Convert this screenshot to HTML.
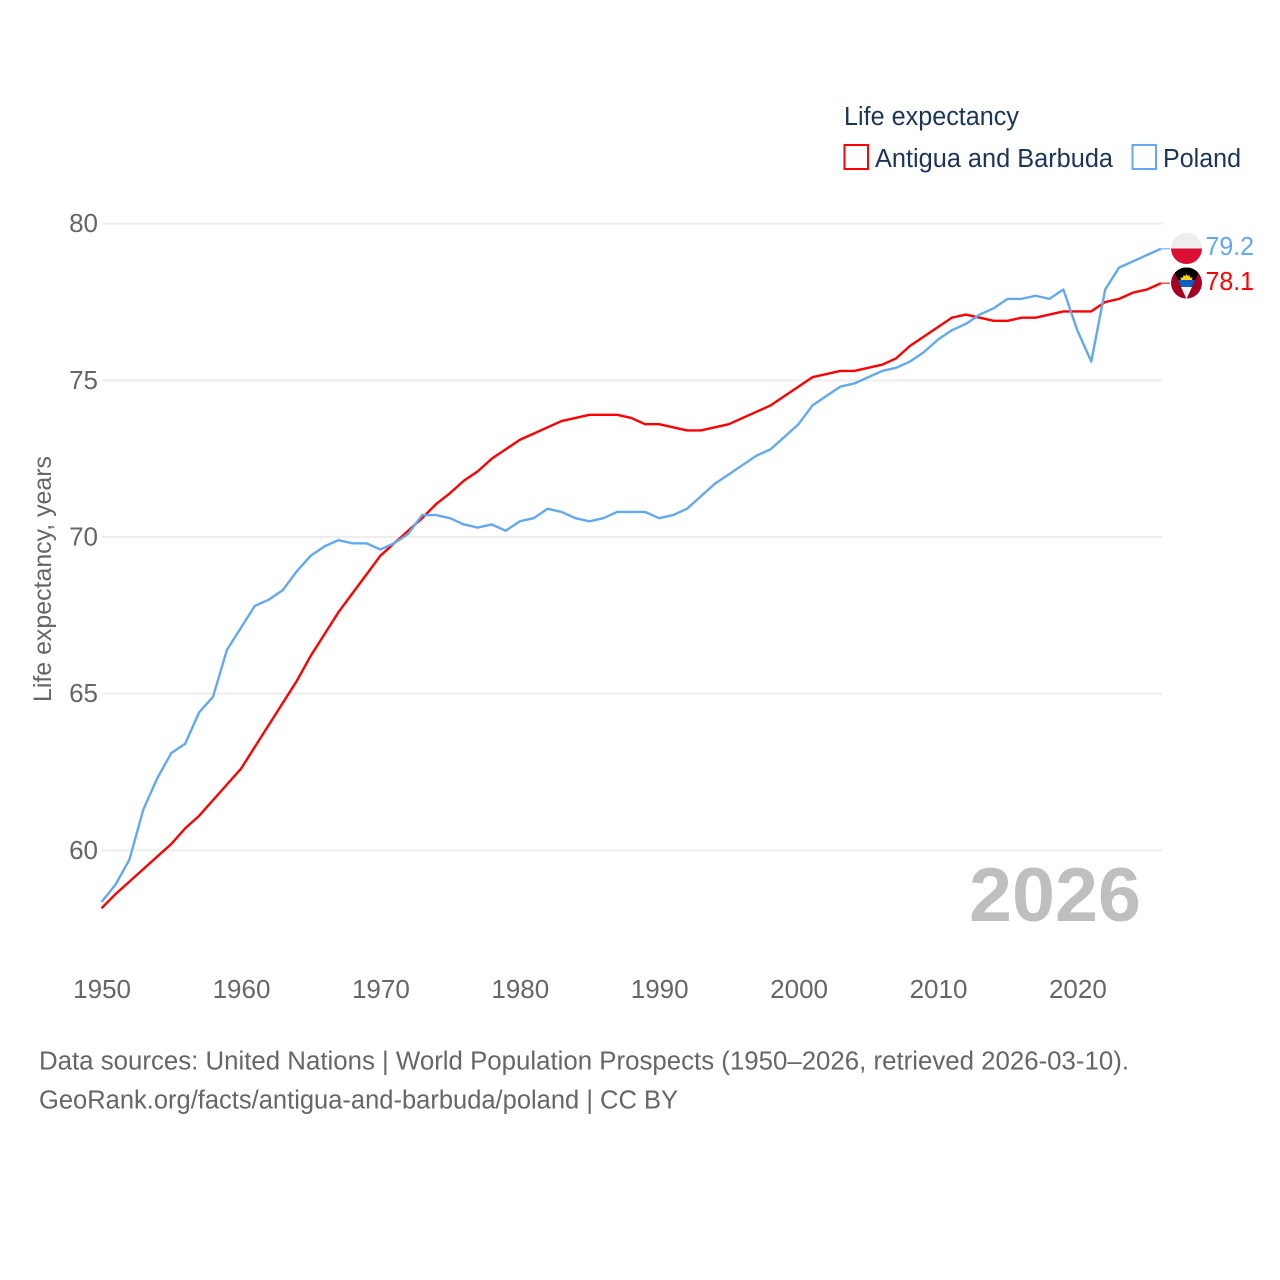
<!DOCTYPE html>
<html lang="en">
<head>
<meta charset="utf-8">
<title>Life expectancy: Antigua and Barbuda vs Poland</title>
<style>
  html, body { margin: 0; padding: 0; background: #fff; }
  svg { display: block; font-family: "Liberation Sans", sans-serif; }
</style>
</head>
<body>
<svg id="chart" width="1280" height="1280" viewBox="0 0 1280 1280" xmlns="http://www.w3.org/2000/svg">
  <defs>
    <clipPath id="clip-pl"><circle cx="1186.5" cy="248.5" r="15.5"/></clipPath>
    <clipPath id="clip-ag"><circle cx="1186.5" cy="283" r="15.5"/></clipPath>
  </defs>
  <rect width="1280" height="1280" fill="#fff"/>
  <g id="grid"></g>
  <g id="yticks"></g>
  <g id="xticks"></g>

  <text transform="translate(51,579) rotate(-90)" text-anchor="middle" font-size="25" fill="#666" textLength="246" lengthAdjust="spacingAndGlyphs">Life expectancy, years</text>

  <text x="969" y="921" font-size="76" font-weight="bold" fill="#bfbfbf" textLength="172" lengthAdjust="spacingAndGlyphs">2026</text>

  <g id="series"></g>

  <g clip-path="url(#clip-pl)">
    <rect x="1170" y="232" width="34" height="17" fill="#eeeeee"/>
    <rect x="1170" y="248.5" width="34" height="17" fill="#dc0f35"/>
  </g>
  <g clip-path="url(#clip-ag)">
    <rect x="1170" y="267" width="34" height="33" fill="#a50022"/>
    <polygon points="1172,267 1201,267 1186.5,299" fill="#000"/>
    <polygon points="1181,280.5 1180.5,277.5 1183,277.5 1183.5,275 1185.5,276 1186.5,273.5 1187.5,276 1189.5,275 1190,277.5 1192.5,277.5 1192,280.5" fill="#fcd116"/>
    <polygon points="1178,280 1195,280 1192,287 1181,287" fill="#0b5fc0"/>
    <polygon points="1181,287 1192,287 1186.5,299" fill="#f4f4f4"/>
  </g>

  <g id="end-labels"></g>

  <g>
    <text x="844" y="125" font-size="25.5" fill="#1a3557" textLength="175" lengthAdjust="spacingAndGlyphs">Life expectancy</text>
    <rect x="844.5" y="145" width="23.5" height="24" fill="#fff" stroke="#ff0000" stroke-width="2"/>
    <text x="875" y="167" font-size="25.5" fill="#1a3557" textLength="238" lengthAdjust="spacingAndGlyphs">Antigua and Barbuda</text>
    <rect x="1132.5" y="145" width="23.5" height="24" fill="#fff" stroke="#63a9ee" stroke-width="2"/>
    <text x="1163" y="167" font-size="25.5" fill="#1a3557" textLength="78" lengthAdjust="spacingAndGlyphs">Poland</text>
  </g>

  <text x="39" y="1069.5" font-size="25.5" fill="#666" textLength="1090" lengthAdjust="spacingAndGlyphs">Data sources: United Nations | World Population Prospects (1950–2026, retrieved 2026-03-10).</text>
  <text x="39" y="1108.5" font-size="25.5" fill="#666" textLength="639" lengthAdjust="spacingAndGlyphs">GeoRank.org/facts/antigua-and-barbuda/poland | CC BY</text>
</svg>

<script>
const years = [1950,1951,1952,1953,1954,1955,1956,1957,1958,1959,
  1960,1961,1962,1963,1964,1965,1966,1967,1968,1969,
  1970,1971,1972,1973,1974,1975,1976,1977,1978,1979,
  1980,1981,1982,1983,1984,1985,1986,1987,1988,1989,
  1990,1991,1992,1993,1994,1995,1996,1997,1998,1999,
  2000,2001,2002,2003,2004,2005,2006,2007,2008,2009,
  2010,2011,2012,2013,2014,2015,2016,2017,2018,2019,
  2020,2021,2022,2023,2024,2025,2026];
const antiguaValues = [58.15,58.6,59.0,59.4,59.8,60.2,60.7,61.1,61.6,62.1,
  62.6,63.3,64.0,64.7,65.4,66.2,66.9,67.6,68.2,68.8,
  69.4,69.8,70.2,70.6,71.05,71.4,71.8,72.1,72.5,72.8,
  73.1,73.3,73.5,73.7,73.8,73.9,73.9,73.9,73.8,73.6,
  73.6,73.5,73.4,73.4,73.5,73.6,73.8,74.0,74.2,74.5,
  74.8,75.1,75.2,75.3,75.3,75.4,75.5,75.7,76.1,76.4,
  76.7,77.0,77.1,77.0,76.9,76.9,77.0,77.0,77.1,77.2,
  77.2,77.2,77.5,77.6,77.8,77.9,78.1];
const polandValues = [58.35,58.9,59.7,61.3,62.3,63.1,63.4,64.4,64.9,66.4,
  67.1,67.8,68.0,68.3,68.9,69.4,69.7,69.9,69.8,69.8,
  69.6,69.8,70.1,70.7,70.7,70.6,70.4,70.3,70.4,70.2,
  70.5,70.6,70.9,70.8,70.6,70.5,70.6,70.8,70.8,70.8,
  70.6,70.7,70.9,71.3,71.7,72.0,72.3,72.6,72.8,73.2,
  73.6,74.2,74.5,74.8,74.9,75.1,75.3,75.4,75.6,75.9,
  76.3,76.6,76.8,77.1,77.3,77.6,77.6,77.7,77.6,77.9,
  76.6,75.6,77.9,78.6,78.8,79.0,79.2];
const yTickLabels = [60,65,70,75,80];
const xTickLabels = [1950,1960,1970,1980,1990,2000,2010,2020];

const NS = 'http://www.w3.org/2000/svg';
const xScale = function (year) { return 101.5 + (year - 1950) * 13.94; };
const yScale = function (v) { return 850.3 - (v - 60) * 31.33; };

function make(tag, parent, attrs) {
  const el = document.createElementNS(NS, tag);
  for (const k in attrs) el.setAttribute(k, attrs[k]);
  parent.appendChild(el);
  return el;
}

const gridG = document.getElementById('grid');
const yG = document.getElementById('yticks');
yTickLabels.forEach(function (t) {
  const line = make('line', gridG, { x1: 102, x2: 1162, y1: yScale(t), y2: yScale(t), stroke: '#eeeeee', 'stroke-width': 2 });
  
  
  const label = make('text', yG, { x: 98, y: yScale(t) + 8.5, 'text-anchor': 'end', 'font-size': 26, fill: '#666' });
  
  
  label.textContent = t;
});

const xG = document.getElementById('xticks');
xTickLabels.forEach(function (t) {
  const label = make('text', xG, { x: xScale(t) + 0.6, y: 998, 'text-anchor': 'middle', 'font-size': 26, fill: '#666' });
  
  
  label.textContent = t;
});

const seriesG = document.getElementById('series');
const endG = document.getElementById('end-labels');

function drawSeries(values, color, name, labelOffset) {
  const pts = years.map(function (y, i) { return xScale(y).toFixed(2) + ',' + yScale(values[i]).toFixed(2); }).join(' ');
  const last = values[values.length - 1];
  const lastX = xScale(years[years.length - 1]);
  const lastY = yScale(last);

  const tail = make('line', seriesG, { x1: lastX, x2: lastX + 9, y1: lastY, y2: lastY, stroke: color, 'stroke-width': 1.5, opacity: 0.7 });
  
  

  const line = make('polyline', seriesG, { points: pts, fill: 'none', stroke: color, 'stroke-width': 2.4, 'stroke-linejoin': 'round' });
  
  

  const label = make('text', endG, { x: 1205.5, y: lastY + labelOffset, 'font-size': 26, fill: color, textLength: 48.5, lengthAdjust: 'spacingAndGlyphs' });
  
  
  label.textContent = last.toFixed(1);
}

drawSeries(antiguaValues, '#ff0000', 'antigua', 7);
drawSeries(polandValues, '#63a9ee', 'poland', 6);
</script>
</body>
</html>
